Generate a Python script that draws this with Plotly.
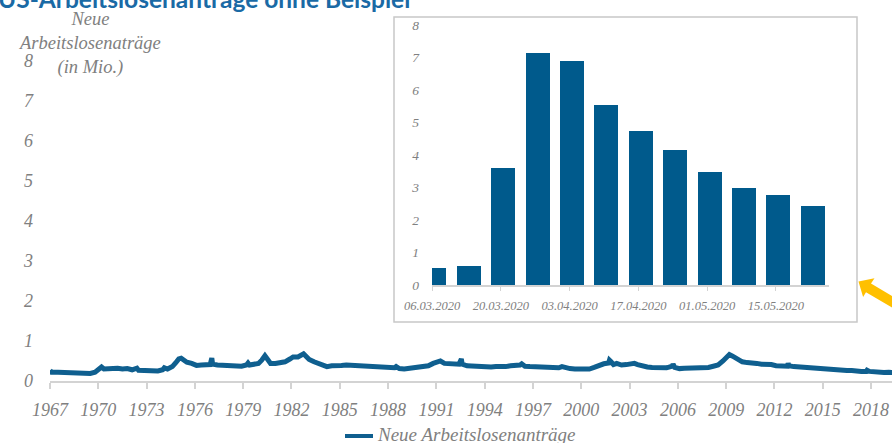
import plotly.graph_objects as go

W, H = 892, 443

# Weekly initial jobless claims (millions), sampled along the long-run series
years = [
    1967.0, 1967.1, 1967.5, 1968.0, 1968.5, 1969.0, 1969.5, 1969.8, 1970.0, 1970.2,
    1970.35, 1970.6, 1970.9, 1971.2, 1971.5, 1971.8, 1972.1, 1972.4, 1972.5, 1972.8,
    1973.1, 1973.4, 1973.7, 1974.0, 1974.1, 1974.3, 1974.6, 1974.8, 1975.0, 1975.15,
    1975.3, 1975.5, 1975.8, 1976.1, 1976.4, 1976.7, 1976.95, 1977.05, 1977.1, 1977.4,
    1977.7, 1978.0, 1978.3, 1978.6, 1978.9, 1979.2, 1979.3, 1979.4, 1979.7, 1979.95,
    1980.15, 1980.35, 1980.5, 1980.7, 1981.0, 1981.3, 1981.6, 1981.9, 1982.1, 1982.4,
    1982.6, 1982.75, 1982.9, 1983.1, 1983.4, 1983.7, 1984.0, 1984.2, 1984.5, 1984.8,
    1985.1, 1985.4, 1985.7, 1986.0, 1986.3, 1986.6, 1986.9, 1987.2, 1987.5, 1987.8,
    1988.1, 1988.4, 1988.5, 1988.7, 1989.0, 1989.3, 1989.6, 1989.9, 1990.2, 1990.5,
    1990.8, 1991.1, 1991.25, 1991.5, 1991.8, 1992.1, 1992.4, 1992.55, 1992.6, 1992.9,
    1993.2, 1993.5, 1993.8, 1994.1, 1994.4, 1994.7, 1995.0, 1995.3, 1995.6, 1995.9,
    1996.2, 1996.3, 1996.5, 1996.8, 1997.1, 1997.4, 1997.7, 1998.0, 1998.3, 1998.6,
    1998.8, 1999.0, 1999.3, 1999.6, 1999.9, 2000.2, 2000.5, 2000.8, 2001.1, 2001.4,
    2001.7, 2001.75, 2001.85, 2002.0, 2002.2, 2002.5, 2002.8, 2003.1, 2003.3, 2003.5,
    2003.8, 2004.1, 2004.4, 2004.7, 2005.0, 2005.3, 2005.65, 2005.7, 2005.8, 2006.1,
    2006.4, 2006.7, 2007.0, 2007.3, 2007.6, 2007.9, 2008.2, 2008.5, 2008.8, 2009.0,
    2009.2, 2009.4, 2009.7, 2010.0, 2010.3, 2010.6, 2010.9, 2011.2, 2011.5, 2011.8,
    2012.1, 2012.4, 2012.8, 2012.85, 2012.9, 2013.2, 2013.5, 2013.8, 2014.1, 2014.4,
    2014.7, 2015.0, 2015.3, 2015.6, 2015.9, 2016.2, 2016.5, 2016.8, 2017.1, 2017.4,
    2017.7, 2017.75, 2017.9, 2018.2, 2018.5, 2018.8, 2019.1, 2019.4,
]
claims = [
    0.27, 0.22, 0.22, 0.21, 0.20, 0.20, 0.19, 0.22, 0.27, 0.35,
    0.30, 0.31, 0.33, 0.32, 0.30, 0.31, 0.28, 0.32, 0.27, 0.26,
    0.24, 0.23, 0.25, 0.28, 0.33, 0.30, 0.36, 0.45, 0.55, 0.57,
    0.53, 0.47, 0.44, 0.39, 0.40, 0.40, 0.41, 0.57, 0.42, 0.40,
    0.39, 0.38, 0.37, 0.36, 0.37, 0.40, 0.45, 0.40, 0.42, 0.44,
    0.52, 0.63, 0.55, 0.44, 0.44, 0.46, 0.48, 0.55, 0.60, 0.60,
    0.63, 0.68, 0.62, 0.54, 0.48, 0.43, 0.38, 0.36, 0.38, 0.40,
    0.39, 0.40, 0.39, 0.38, 0.40, 0.38, 0.37, 0.35, 0.34, 0.33,
    0.32, 0.33, 0.36, 0.31, 0.30, 0.32, 0.35, 0.36, 0.36, 0.38,
    0.44, 0.47, 0.50, 0.44, 0.43, 0.44, 0.42, 0.55, 0.42, 0.38,
    0.37, 0.37, 0.36, 0.36, 0.35, 0.36, 0.35, 0.36, 0.38, 0.38,
    0.40, 0.43, 0.37, 0.36, 0.35, 0.34, 0.33, 0.33, 0.33, 0.33,
    0.36, 0.33, 0.31, 0.30, 0.29, 0.28, 0.30, 0.34, 0.39, 0.43,
    0.45, 0.52, 0.48, 0.41, 0.44, 0.40, 0.41, 0.43, 0.44, 0.41,
    0.37, 0.35, 0.34, 0.34, 0.33, 0.33, 0.37, 0.42, 0.34, 0.31,
    0.32, 0.32, 0.32, 0.32, 0.32, 0.34, 0.37, 0.40, 0.50, 0.58,
    0.66, 0.62, 0.55, 0.48, 0.46, 0.46, 0.44, 0.42, 0.42, 0.41,
    0.38, 0.38, 0.37, 0.44, 0.38, 0.36, 0.35, 0.33, 0.33, 0.31,
    0.29, 0.29, 0.28, 0.27, 0.27, 0.26, 0.26, 0.26, 0.24, 0.24,
    0.24, 0.27, 0.24, 0.22, 0.22, 0.21, 0.22, 0.21,
]
year_ticks = list(range(1967, 2019, 3))

# Corona weeks (millions)
week_dates = [
    "2020-03-06 12:00", "2020-03-13 12:00", "2020-03-20 12:00", "2020-03-27 12:00",
    "2020-04-03 12:00", "2020-04-10 12:00", "2020-04-17 12:00", "2020-04-24 12:00",
    "2020-05-01 12:00", "2020-05-08 12:00", "2020-05-15 12:00", "2020-05-22 12:00",
]
week_claims = [0.53, 0.59, 3.61, 7.15, 6.90, 5.54, 4.74, 4.15, 3.48, 2.98, 2.76, 2.42]
date_ticks = ["2020-03-06", "2020-03-20", "2020-04-03", "2020-04-17", "2020-05-01", "2020-05-15"]

TITLE = "US-Arbeitslosenanträge ohne Beispiel"
Y_TITLE = "Neue<br>Arbeitslosenaträge<br>(in Mio.)"
SERIES = "Neue Arbeitslosenanträge"

BLUE = "#0f5f8f"
BAR = "#005a8c"
GREY = "#808080"
AXIS = "#d3d3d3"
GOLD = "#ffc000"
SERIF = "Liberation Serif"


def px(x):
    return x / W


def py(y):
    return 1 - y / H


fig = go.Figure()

fig.add_trace(go.Scatter(
    x=years, y=claims, mode="lines", name=SERIES,
    line=dict(color=BLUE, width=5), xaxis="x", yaxis="y", showlegend=False,
))

fig.add_trace(go.Bar(
    x=week_dates, y=week_claims, marker=dict(color=BAR, line=dict(width=0)),
    width=4.88 * 86400000, showlegend=False, xaxis="x2", yaxis="y2",
))

tick_font = dict(family=SERIF, size=18, color=GREY, style="italic")
small_font = dict(family=SERIF, size=12.5, color=GREY, style="italic")
inset_y_font = dict(family=SERIF, size=13.5, color=GREY, style="italic")

fig.update_layout(
    width=W, height=H,
    margin=dict(l=0, r=0, t=0, b=0),
    paper_bgcolor="white", plot_bgcolor="rgba(0,0,0,0)",
    xaxis=dict(
        domain=[px(50), 1], range=[1967, 2019.3], automargin=False,
        tickvals=year_ticks, ticktext=[str(v) for v in year_ticks],
        showgrid=False, zeroline=False,
        showline=True, linecolor=AXIS, linewidth=2,
        ticks="outside", ticklen=6, tickwidth=1.5, tickcolor=AXIS,
        tickfont=tick_font, ticklabelstandoff=5,
    ),
    yaxis=dict(
        domain=[py(381), py(61)], range=[0, 8], automargin=False,
        tickvals=list(range(0, 9)),
        showgrid=False, zeroline=False, showline=False,
        tickfont=tick_font, ticklabelstandoff=16,
    ),
    xaxis2=dict(
        domain=[px(432), px(829)], anchor="y2", automargin=False,
        type="date", range=["2020-03-06", "2020-05-25 19:00"],
        tickvals=date_ticks, tickformat="%d.%m.%Y",
        showgrid=False, zeroline=False,
        showline=True, linecolor=AXIS, linewidth=1.5,
        ticks="outside", ticklen=4, tickwidth=1, tickcolor=AXIS,
        tickfont=small_font, ticklabelstandoff=4,
    ),
    yaxis2=dict(
        domain=[py(285), py(25)], anchor="x2", range=[0, 8], automargin=False,
        tickvals=list(range(0, 9)),
        showgrid=False, zeroline=False, showline=False,
        tickfont=inset_y_font, ticklabelstandoff=12,
    ),
    showlegend=False,
    bargap=0,
)

# Inset frame
fig.add_shape(
    type="rect", xref="paper", yref="paper",
    x0=px(394), x1=px(857), y0=py(322), y1=py(17),
    line=dict(color="#c8c8c8", width=1.5), fillcolor="white", layer="below",
)

# Pointer arrow towards the inset
arrow_pts = [
    (858.5, 281.5), (874.5, 278.3), (871.0, 283.6), (905.6, 304.0),
    (900.4, 312.6), (866.0, 292.2), (863.1, 297.1),
]
path = "M " + " L ".join(f"{px(x):.5f},{py(y):.5f}" for x, y in arrow_pts) + " Z"
fig.add_shape(type="path", xref="paper", yref="paper", path=path,
              fillcolor=GOLD, line=dict(width=0))

# Series key below the axis
fig.add_shape(type="line", xref="paper", yref="paper",
              x0=px(345), x1=px(373), y0=py(436), y1=py(436),
              line=dict(color=BLUE, width=4))
fig.add_annotation(
    text=SERIES, xref="paper", yref="paper",
    x=px(375), y=py(434), xanchor="left", yanchor="middle", showarrow=False,
    font=dict(family=SERIF, size=19, color=GREY, style="italic"),
)

# Slide heading, mostly above the visible area
fig.add_annotation(
    text=f"<b>{TITLE}</b>", xref="paper", yref="paper",
    x=px(-4), y=py(15), xanchor="left", yanchor="bottom", showarrow=False,
    font=dict(family="Lato", size=24.5, color="#1a6aa5"),
)

# Value axis title
fig.add_annotation(
    text=Y_TITLE, xref="paper", yref="paper",
    x=px(89), y=py(43), xanchor="center", yanchor="middle", showarrow=False,
    align="center",
    font=dict(family=SERIF, size=18.5, color=GREY, style="italic"),
)

fig.write_html("out.html")
